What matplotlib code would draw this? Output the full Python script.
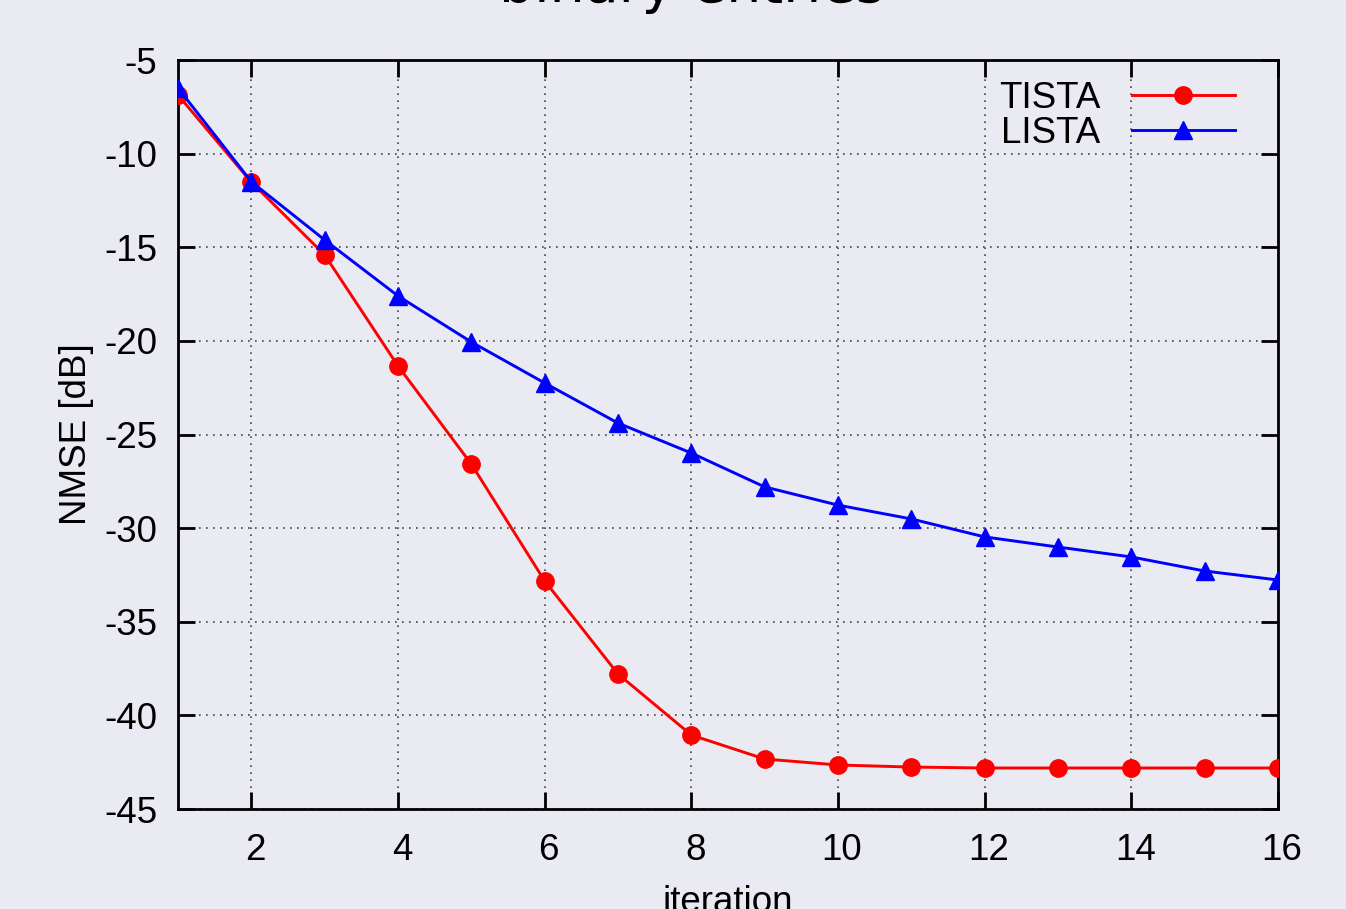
import matplotlib
matplotlib.use("Agg")
import matplotlib.pyplot as plt
from matplotlib.transforms import ScaledTranslation

iterations = list(range(1, 17))
tista = [-6.87, -11.52, -15.41, -21.34, -26.58, -32.82, -37.79, -41.05,
         -42.33, -42.65, -42.76, -42.81, -42.81, -42.81, -42.81, -42.81]
lista = [-6.5, -11.5, -14.61, -17.60, -20.06, -22.25, -24.39, -25.99,
         -27.80, -28.77, -29.51, -30.47, -31.01, -31.54, -32.29, -32.77]
xticks = [2, 4, 6, 8, 10, 12, 14, 16]
yticks = [-45, -40, -35, -30, -25, -20, -15, -10, -5]
title = "binary entries"

bg = "#EAEAF2"
plt.rcParams["axes.unicode_minus"] = False
plt.rcParams["font.family"] = ["Liberation Sans", "DejaVu Sans"]

W, H = 1346, 909
fs = 26.5
fig = plt.figure(figsize=(W / 100, H / 100), dpi=100, facecolor=bg)
ax = fig.add_axes([178 / W, 1 - 809 / H, 1100 / W, 749 / H], facecolor=bg)

ax.plot(iterations, tista, color="#FF0000", lw=2.1, marker="o", ms=12.5,
        label="TISTA", zorder=3)
ax.plot(iterations, lista, color="#0000FF", lw=2.1, marker="^", ms=12.5,
        label="LISTA", zorder=3)

ax.set_xlim(1, 16)
ax.set_ylim(-45, -5)
ax.set_xticks(xticks)
ax.set_yticks(yticks)
ax.set_xticklabels([str(t) for t in xticks])
ax.set_yticklabels([str(t) for t in yticks])

for s in ax.spines.values():
    s.set_linewidth(2.0)
    s.set_color("black")

ax.tick_params(axis="both", which="major", direction="in", length=12,
               width=2.0, labelsize=fs, top=True, right=True, colors="black")
ax.tick_params(axis="y", pad=15)
ax.tick_params(axis="x", pad=17)
for lab in ax.get_xticklabels():
    lab.set_transform(lab.get_transform() + ScaledTranslation(4 / 100, 0, fig.dpi_scale_trans))

ax.grid(True, color="#444444", linestyle=(0, (1.0, 3.2)), linewidth=1.2)
ax.set_axisbelow(True)

ax.set_ylabel("NMSE [dB]", fontsize=fs)
ax.yaxis.set_label_coords((94 - 178) / 1100, 0.5)
ax.set_xlabel("iteration", fontsize=fs)
ax.xaxis.set_label_coords(0.5, -(885 - 809) / 749)

leg = ax.legend(loc="upper right", bbox_to_anchor=((1235 - 178) / 1100, 1 - 21 / 749),
                frameon=False, markerfirst=False, fontsize=fs, borderpad=0,
                borderaxespad=0, handlelength=2.8, handletextpad=0.85,
                labelspacing=0.0)

fig.text(692 / W, 1 - 2 / H, title, fontsize=40, ha="center", va="baseline",
         family="DejaVu Sans")

fig.savefig("out.png", dpi=100, facecolor=bg)
